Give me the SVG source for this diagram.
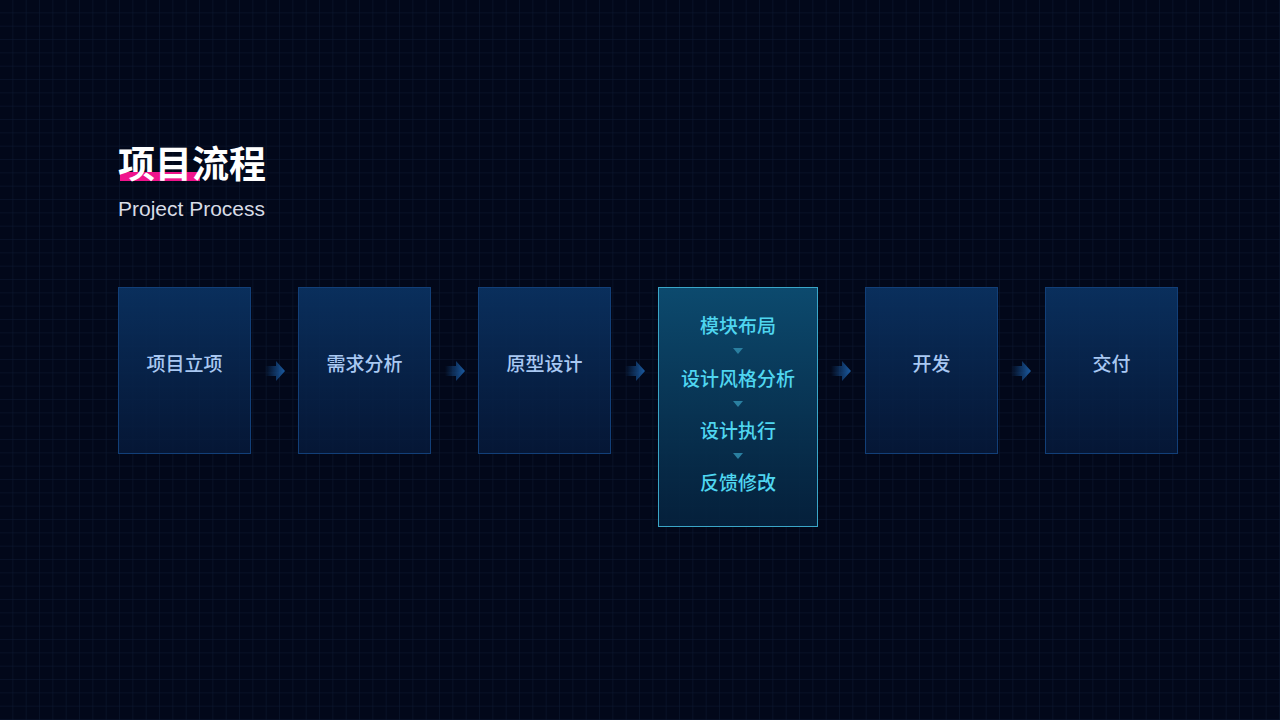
<svg xmlns="http://www.w3.org/2000/svg" width="1280" height="720" viewBox="0 0 1280 720">
<defs>
<pattern id="grid" width="13.333" height="13.333" patternUnits="userSpaceOnUse">
<path d="M13.333 0V13.333M0 13.333H13.333" fill="none" stroke="#0d1a33" stroke-width="1"/>
</pattern>
<linearGradient id="box" x1="0" y1="0" x2="0" y2="1">
<stop offset="0" stop-color="#0a3160" stop-opacity="0.95"/>
<stop offset="1" stop-color="#061a3c" stop-opacity="0.8"/>
</linearGradient>
<linearGradient id="boxA" x1="0" y1="0" x2="0" y2="1">
<stop offset="0" stop-color="#0c4a6e"/>
<stop offset="1" stop-color="#05223e" stop-opacity="0.9"/>
</linearGradient>
<linearGradient id="arr" x1="0" y1="0" x2="1" y2="0">
<stop offset="0" stop-color="#1a5aa0" stop-opacity="0"/>
<stop offset="1" stop-color="#1a5aa0"/>
</linearGradient>
<style>
.box{fill:url(#box);stroke:#123f78;stroke-width:1}
.lbl{font-family:"Noto Sans CJK SC",sans-serif;font-size:19px;font-weight:500;fill:#a9c8f2;text-anchor:middle}
.lblA{font-family:"Noto Sans CJK SC",sans-serif;font-size:19px;font-weight:500;fill:#4fd6f0;text-anchor:middle}
.tri{fill:#2a7fa0}
</style>
</defs>
<rect width="1280" height="720" fill="#02081a"/>
<rect width="1280" height="720" fill="url(#grid)"/>
<rect x="120" y="172" width="80" height="9" fill="#f0148c"/>
<text x="118" y="178" font-family="Noto Sans CJK SC,sans-serif" font-size="37" font-weight="700" fill="#ffffff">项目流程</text>
<text x="118" y="216" font-family="Liberation Sans,sans-serif" font-size="21" fill="#d8dce6">Project Process</text>
<g id="connectors">
<path d="M265 366H276V361L285 371L276 381V376H265Z" fill="url(#arr)"/>
<path d="M445 366H456V361L465 371L456 381V376H445Z" fill="url(#arr)"/>
<path d="M625 366H636V361L645 371L636 381V376H625Z" fill="url(#arr)"/>
<path d="M831 366H842V361L851 371L842 381V376H831Z" fill="url(#arr)"/>
<path d="M1011 366H1022V361L1031 371L1022 381V376H1011Z" fill="url(#arr)"/>
</g>
<g id="n1"><rect class="box" x="118.5" y="287.5" width="132" height="166"/><text class="lbl" x="184.5" y="371">项目立项</text></g>
<g id="n2"><rect class="box" x="298.5" y="287.5" width="132" height="166"/><text class="lbl" x="364.5" y="371">需求分析</text></g>
<g id="n3"><rect class="box" x="478.5" y="287.5" width="132" height="166"/><text class="lbl" x="544.5" y="371">原型设计</text></g>
<g id="n4"><rect x="658.5" y="287.5" width="159" height="239" fill="url(#boxA)" stroke="#3aa6c8" stroke-width="1"/>
<text class="lblA" x="738" y="333">模块布局</text>
<path class="tri" d="M733 348H743L738 354Z"/>
<text class="lblA" x="738" y="386">设计风格分析</text>
<path class="tri" d="M733 401H743L738 407Z"/>
<text class="lblA" x="738" y="438">设计执行</text>
<path class="tri" d="M733 453H743L738 459Z"/>
<text class="lblA" x="738" y="490">反馈修改</text></g>
<g id="n5"><rect class="box" x="865.5" y="287.5" width="132" height="166"/><text class="lbl" x="931.5" y="371">开发</text></g>
<g id="n6"><rect class="box" x="1045.5" y="287.5" width="132" height="166"/><text class="lbl" x="1111.5" y="371">交付</text></g>
</svg>
